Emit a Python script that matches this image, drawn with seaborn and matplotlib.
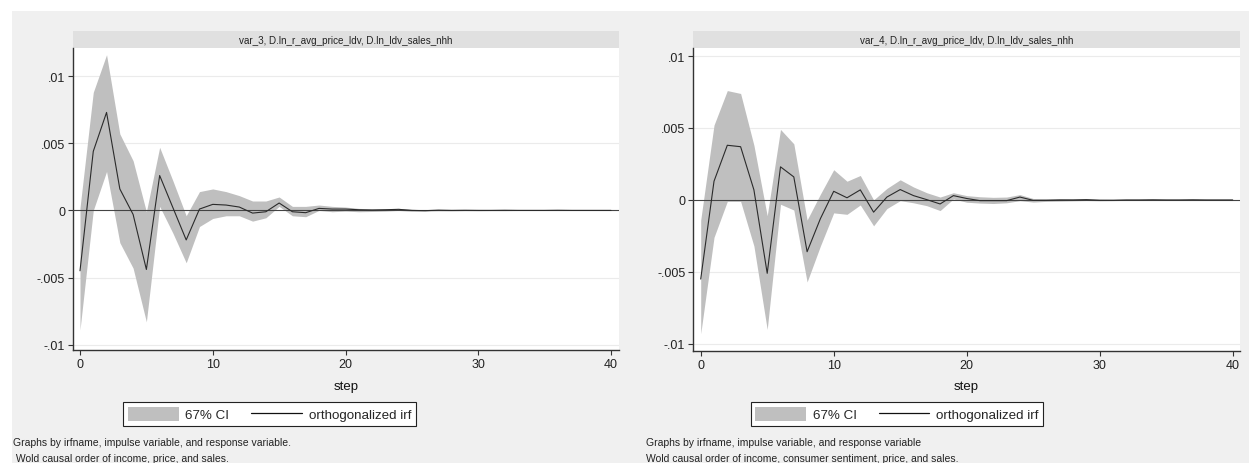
"""Impulse-response graphs (var_3 and var_4) redrawn in the Stata look."""

import matplotlib

matplotlib.use("Agg")

import matplotlib.pyplot as plt
import matplotlib.patches as mpatches
from matplotlib.lines import Line2D
import seaborn as sns


STEPS = list(range(41))

VAR3_TITLE = "var_3, D.ln_r_avg_price_ldv, D.ln_ldv_sales_nhh"
VAR3_IRF = [
    -0.0045, 0.0044, 0.0073, 0.0016, -0.0003, -0.0044, 0.0026, 0.0002, -0.0022, 0.0001,
    0.00045, 0.0004, 0.00025, -0.0002, -0.0001, 0.00055, -0.0001, -0.00017, 0.00015, 0.0001,
    0.0001, 0.00005, 0.00003, 0.00005, 0.00008, 0.0, -0.00002, 0.00002, 0.0, 0.00001,
    0.0, 0.0, 0.00001, 0.0, 0.0, 0.0, 0.00001, 0.0, 0.0, 0.0, 0.0,
]
VAR3_UPPER = [
    0.0002, 0.0088, 0.0116, 0.0057, 0.0037, -0.0001, 0.0047, 0.0022, -0.0004, 0.0014,
    0.0016, 0.0014, 0.0011, 0.0007, 0.0007, 0.0010, 0.0003, 0.0003, 0.0004, 0.0003,
    0.00025, 0.00015, 0.00012, 0.00012, 0.00015, 0.00008, 0.00005, 0.00006, 0.00004, 0.00004,
    0.00003, 0.00003, 0.00002, 0.00002, 0.00002, 0.00002, 0.00002, 0.00001, 0.00001, 0.00001,
    0.00001,
]
VAR3_LOWER = [
    -0.0089, 0.0, 0.0029, -0.0024, -0.0043, -0.0083, 0.0003, -0.0017, -0.0039, -0.0012,
    -0.0006, -0.0004, -0.0004, -0.0008, -0.00055, 0.0003, -0.0004, -0.00047, 0.0, -0.0001,
    -0.00005, -0.0001, -0.00008, -0.00005, 0.0, -0.00007, -0.00006, -0.00003, -0.00004, -0.00002,
    -0.00003, -0.00002, -0.00002, -0.00001, -0.00001, -0.00001, -0.00001, -0.00001, -0.00001,
    -0.00001, -0.00001,
]

VAR4_TITLE = "var_4, D.ln_r_avg_price_ldv, D.ln_ldv_sales_nhh"
VAR4_IRF = [
    -0.0055, 0.0013, 0.0038, 0.0037, 0.0007, -0.0051, 0.0023, 0.0016, -0.0036, -0.0013,
    0.0006, 0.00015, 0.0007, -0.00085, 0.0002, 0.00072, 0.0003, 0.00002, -0.00028, 0.0003,
    0.0001, -0.00005, -0.00005, -0.00005, 0.0002, -0.00003, -0.00003, 0.0, 0.0, 0.00002,
    -0.00002, -0.00002, 0.0, 0.0, 0.00001, 0.0, 0.0, 0.00001, 0.0, 0.0, 0.0,
]
VAR4_UPPER = [
    -0.0014, 0.0052, 0.0076, 0.0074, 0.0038, -0.0011, 0.0049, 0.0039, -0.0014, 0.0004,
    0.0021, 0.0013, 0.0017, 0.0, 0.0008, 0.0014, 0.0009, 0.0005, 0.0002, 0.0005,
    0.0003, 0.00022, 0.00018, 0.0002, 0.00037, 0.0001, 0.0001, 0.00008, 0.00006, 0.00007,
    0.00004, 0.00003, 0.00003, 0.00003, 0.00003, 0.00002, 0.00002, 0.00002, 0.00001, 0.00001,
    0.00001,
]
VAR4_LOWER = [
    -0.0093, -0.0026, -0.0001, -0.0001, -0.0032, -0.0090, -0.0003, -0.0007, -0.0057, -0.0032,
    -0.0009, -0.0010, -0.00035, -0.0018, -0.0006, -0.00005, -0.0002, -0.0004, -0.00074, 0.00007,
    -0.00016, -0.00022, -0.00025, -0.0002, -0.00005, -0.00015, -0.0001, -0.00008, -0.00006,
    -0.00004, -0.00006, -0.00005, -0.00003, -0.00003, -0.00002, -0.00002, -0.00002, -0.00001,
    -0.00001, -0.00001, -0.00001,
]

Y_TICKS = [-0.01, -0.005, 0, 0.005, 0.01]
Y_TICK_LABELS = ["-.01", "-.005", "0", ".005", ".01"]
X_TICKS = [0, 10, 20, 30, 40]

NOTE_LEFT = [
    "Graphs by irfname, impulse variable, and response variable.",
    " Wold causal order of income, price, and sales.",
]
NOTE_RIGHT = [
    "Graphs by irfname, impulse variable, and response variable",
    "Wold causal order of income, consumer sentiment, price, and sales.",
]

W, H = 1249, 464
BAND_COLOR = "#bfbfbf"
LINE_COLOR = "#2b2b2b"
PANEL_BG = "#f0f0f0"
STRIP_BG = "#e0e0e0"

sns.set_style("ticks")
plt.rcParams["font.family"] = ["Liberation Sans", "DejaVu Sans"]


def px_x(x):
    return x / W


def px_y(y):
    return 1 - y / H


def draw_panel(fig, box, xlim, ylim, title, irf, upper, lower, legend_center, notes, note_x):
    left, top, right, bottom = box
    ax = fig.add_axes([px_x(left), px_y(bottom), px_x(right - left), (bottom - top) / H])
    ax.set_zorder(2)
    ax.set_facecolor("white")

    ax.fill_between(STEPS, lower, upper, color=BAND_COLOR, linewidth=0, zorder=2)
    for yt in Y_TICKS:
        if yt != 0:
            ax.axhline(yt, color="#ebebeb", linewidth=0.8, zorder=1)
    ax.axhline(0, color="#444444", linewidth=0.8, zorder=3)
    sns.lineplot(x=STEPS, y=irf, ax=ax, color=LINE_COLOR, linewidth=0.8, zorder=4)

    ax.set_xlim(*xlim)
    ax.set_ylim(*ylim)
    ax.set_xticks(X_TICKS)
    ax.set_yticks(Y_TICKS)
    ax.set_yticklabels(Y_TICK_LABELS)
    ax.tick_params(axis="both", direction="out", length=3.5, width=0.8, color="#333333",
                   labelsize=9, labelcolor="#222222", pad=2)
    for side in ("top", "right"):
        ax.spines[side].set_visible(False)
    for side in ("left", "bottom"):
        ax.spines[side].set_color("#333333")
        ax.spines[side].set_linewidth(1.0)

    ax.set_xlabel("step", fontsize=9.5, color="#111111")
    ax.xaxis.set_label_coords(0.5, -(387 - bottom) / (bottom - top))
    ax.xaxis.label.set_va("center")

    # title strip above the plot region
    fig.patches.append(mpatches.Rectangle(
        (px_x(left), px_y(49)), px_x(right - left), (49 - 32) / H,
        transform=fig.transFigure, facecolor=STRIP_BG, edgecolor="none", zorder=1))
    fig.text(px_x((left + right) / 2), px_y(41), title, ha="center", va="center",
             fontsize=7.1, color="#222222", zorder=3)

    handles = [
        mpatches.Patch(facecolor=BAND_COLOR, edgecolor="none", label="67% CI"),
        Line2D([], [], color="#111111", linewidth=0.9, label="orthogonalized irf"),
    ]
    leg = fig.legend(handles=handles, loc="center", ncol=2,
                     bbox_to_anchor=(px_x(legend_center), px_y(415)),
                     fontsize=9.6, frameon=True, fancybox=False, framealpha=1,
                     facecolor="white", edgecolor="#222222", borderpad=0.35,
                     handlelength=3.8, handleheight=1.25, handletextpad=0.5,
                     columnspacing=1.65)
    leg.get_frame().set_linewidth(0.8)
    leg.set_zorder(3)

    fig.text(px_x(note_x), px_y(443), notes[0], ha="left", va="center", fontsize=7.5,
             color="#222222", zorder=3)
    fig.text(px_x(note_x), px_y(459), notes[1], ha="left", va="center", fontsize=7.5,
             color="#222222", zorder=3)
    return ax


fig = plt.figure(figsize=(W / 100, H / 100), dpi=100, facecolor="white")
fig.patches.append(mpatches.Rectangle(
    (px_x(12), 0), px_x(W - 12), px_y(12), transform=fig.transFigure,
    facecolor=PANEL_BG, edgecolor="none", zorder=-1))

draw_panel(fig, (72.7, 49, 619, 351), (-0.55, 40.6), (-0.0104, 0.0121), VAR3_TITLE,
           VAR3_IRF, VAR3_UPPER, VAR3_LOWER, 269.5, NOTE_LEFT, 13)
draw_panel(fig, (693, 49, 1240, 352), (-0.58, 40.55), (-0.0105, 0.01056), VAR4_TITLE,
           VAR4_IRF, VAR4_UPPER, VAR4_LOWER, 897, NOTE_RIGHT, 646)

fig.savefig("out.png", dpi=100, facecolor=fig.get_facecolor())
plt.close(fig)
